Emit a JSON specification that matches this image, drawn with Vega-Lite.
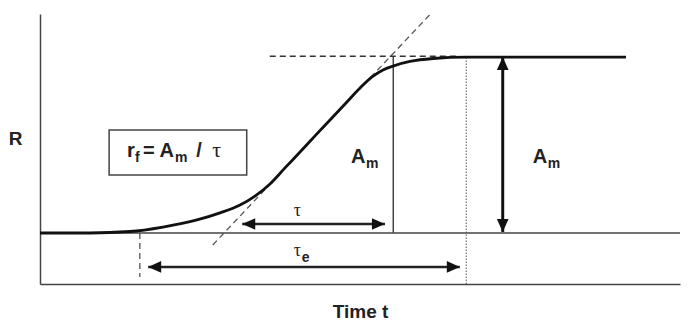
{
  "$schema": "https://vega.github.io/schema/vega-lite/v6.json",
  "width": 640,
  "height": 270,
  "autosize": {"type": "none"},
  "padding": {"left": 40, "top": 14, "right": 8, "bottom": 46},
  "background": "white",
  "config": {"view": {"stroke": null}, "font": "Liberation Sans"},
  "datasets": {
    "curve": [
      {"t": 0, "R": 0.0}, {"t": 7.81, "R": 0.0}, {"t": 14.06, "R": 0.0085}, {"t": 19.22, "R": 0.034},
      {"t": 24.53, "R": 0.074}, {"t": 28.13, "R": 0.114}, {"t": 31.25, "R": 0.159}, {"t": 33.59, "R": 0.21},
      {"t": 35.94, "R": 0.279}, {"t": 38.28, "R": 0.37}, {"t": 40.63, "R": 0.46}, {"t": 42.97, "R": 0.552},
      {"t": 45.31, "R": 0.642}, {"t": 47.66, "R": 0.733}, {"t": 50.0, "R": 0.824}, {"t": 51.88, "R": 0.887},
      {"t": 53.59, "R": 0.927}, {"t": 55.16, "R": 0.949}, {"t": 57.81, "R": 0.975}, {"t": 61.41, "R": 0.992},
      {"t": 66.72, "R": 1.0}, {"t": 91.56, "R": 1.0}
    ],
    "rules": [
      {"name": "tangent", "t": 27.0, "t2": 61.0, "R": -0.068, "R2": 1.245},
      {"name": "plateau", "t": 35.9, "t2": 65.6, "R": 1.005, "R2": 1.005},
      {"name": "tauEnd", "t": 55.2, "t2": 55.2, "R": 0.0, "R2": 1.005},
      {"name": "tauEEnd", "t": 66.6, "t2": 66.6, "R": -0.29, "R2": 1.0},
      {"name": "start", "t": 15.6, "t2": 15.6, "R": 0.0, "R2": -0.25},
      {"name": "baseline", "t": 0, "t2": 100, "R": 0.0, "R2": 0.0},
      {"name": "tauArrow", "t": 31.6, "t2": 53.9, "R": 0.051, "R2": 0.051},
      {"name": "tauEArrow", "t": 16.9, "t2": 65.6, "R": -0.193, "R2": -0.193},
      {"name": "AmArrow", "t": 72.3, "t2": 72.3, "R": 0.006, "R2": 1.0}
    ],
    "heads": [
      {"t": 31.6, "R": 0.051, "dir": "left"},
      {"t": 53.9, "R": 0.051, "dir": "right"},
      {"t": 16.9, "R": -0.193, "dir": "left"},
      {"t": 65.6, "R": -0.193, "dir": "right"},
      {"t": 72.3, "R": 1.0, "dir": "up"},
      {"t": 72.3, "R": 0.006, "dir": "down"}
    ],
    "box": [{"t": 10.8, "t2": 32.3, "R": 0.586, "R2": 0.33}],
    "mainText": [
      {"t": 48.6, "R": 0.398, "text": "A"},
      {"t": 77.0, "R": 0.398, "text": "A"},
      {"t": 13.6, "R": 0.432, "text": "r"},
      {"t": 16.1, "R": 0.432, "text": "= A"},
      {"t": 24.4, "R": 0.432, "text": "/"}
    ],
    "subText": [
      {"t": 50.95, "R": 0.37, "text": "m"},
      {"t": 79.35, "R": 0.37, "text": "m"},
      {"t": 14.85, "R": 0.404, "text": "f"},
      {"t": 21.1, "R": 0.404, "text": "m"},
      {"t": 40.9, "R": -0.165, "text": "e"}
    ],
    "greekText": [
      {"t": 40.2, "R": 0.097, "text": "τ"},
      {"t": 40.2, "R": -0.131, "text": "τ"}
    ],
    "boxGreek": [
      {"t": 27.6, "R": 0.432, "text": "τ"}
    ]
  },
  "encoding": {
    "x": {
      "field": "t", "type": "quantitative",
      "scale": {"domain": [0, 100], "nice": false, "zero": false},
      "axis": {"title": "Time t", "ticks": false, "labels": false, "grid": false,
        "domainColor": "#444", "domainWidth": 1.5,
        "titleFontSize": 19, "titleFontWeight": "bold", "titleColor": "#222",
        "titleY": 33, "titleBaseline": "alphabetic"}
    },
    "y": {
      "field": "R", "type": "quantitative",
      "scale": {"domain": [-0.29, 1.245], "nice": false, "zero": false},
      "axis": {"title": "R", "ticks": false, "labels": false, "grid": false,
        "domainColor": "#444", "domainWidth": 1.5,
        "titleFontSize": 19, "titleFontWeight": "bold", "titleColor": "#222",
        "titleAngle": 0, "titleX": -25, "titleY": 124, "titleAlign": "center", "titleBaseline": "middle"}
    }
  },
  "layer": [
    {
      "data": {"name": "rules"},
      "transform": [{"filter": {"field": "name", "oneOf": ["baseline", "tauEnd"]}}],
      "mark": {"type": "rule", "color": "#444", "strokeWidth": 1.5},
      "encoding": {"x2": {"field": "t2"}, "y2": {"field": "R2"}}
    },
    {
      "data": {"name": "rules"},
      "transform": [{"filter": {"field": "name", "oneOf": ["tauEEnd"]}}],
      "mark": {"type": "rule", "color": "#555", "strokeWidth": 1, "strokeDash": [1.5, 1.5]},
      "encoding": {"x2": {"field": "t2"}, "y2": {"field": "R2"}}
    },
    {
      "data": {"name": "rules"},
      "transform": [{"filter": {"field": "name", "oneOf": ["tangent", "start"]}}],
      "mark": {"type": "rule", "color": "#555", "strokeWidth": 1.3, "strokeDash": [6, 4]},
      "encoding": {"x2": {"field": "t2"}, "y2": {"field": "R2"}}
    },
    {
      "data": {"name": "rules"},
      "transform": [{"filter": {"field": "name", "oneOf": ["plateau"]}}],
      "mark": {"type": "rule", "color": "#333", "strokeWidth": 1.5, "strokeDash": [6, 4]},
      "encoding": {"x2": {"field": "t2"}, "y2": {"field": "R2"}}
    },
    {
      "data": {"name": "rules"},
      "transform": [{"filter": {"field": "name", "oneOf": ["tauArrow", "tauEArrow"]}}],
      "mark": {"type": "rule", "color": "#222", "strokeWidth": 2.5},
      "encoding": {"x2": {"field": "t2"}, "y2": {"field": "R2"}}
    },
    {
      "data": {"name": "rules"},
      "transform": [{"filter": {"field": "name", "oneOf": ["AmArrow"]}}],
      "mark": {"type": "rule", "color": "#111", "strokeWidth": 3},
      "encoding": {"x2": {"field": "t2"}, "y2": {"field": "R2"}}
    },
    {
      "data": {"name": "curve"},
      "mark": {"type": "line", "color": "#111", "strokeWidth": 2.8, "interpolate": "monotone"},
      "encoding": {}
    },
    {
      "data": {"name": "heads"},
      "transform": [{"filter": {"field": "dir", "equal": "right"}}],
      "mark": {"type": "point", "shape": "M0,0L-1,-0.45L-1,0.45Z", "filled": true, "color": "#111", "opacity": 1, "size": 676, "angle": 0},
      "encoding": {}
    },
    {
      "data": {"name": "heads"},
      "transform": [{"filter": {"field": "dir", "equal": "left"}}],
      "mark": {"type": "point", "shape": "M0,0L-1,-0.45L-1,0.45Z", "filled": true, "color": "#111", "opacity": 1, "size": 676, "angle": 180},
      "encoding": {}
    },
    {
      "data": {"name": "heads"},
      "transform": [{"filter": {"field": "dir", "equal": "up"}}],
      "mark": {"type": "point", "shape": "M0,0L-1,-0.45L-1,0.45Z", "filled": true, "color": "#111", "opacity": 1, "size": 676, "angle": 270},
      "encoding": {}
    },
    {
      "data": {"name": "heads"},
      "transform": [{"filter": {"field": "dir", "equal": "down"}}],
      "mark": {"type": "point", "shape": "M0,0L-1,-0.45L-1,0.45Z", "filled": true, "color": "#111", "opacity": 1, "size": 676, "angle": 90},
      "encoding": {}
    },
    {
      "data": {"name": "box"},
      "mark": {"type": "rect", "fill": null, "fillOpacity": 0, "stroke": "#444", "strokeWidth": 1.5},
      "encoding": {"x2": {"field": "t2"}, "y2": {"field": "R2"}}
    },
    {
      "data": {"name": "mainText"},
      "mark": {"type": "text", "align": "left", "baseline": "alphabetic", "fontSize": 20, "fontWeight": "bold", "color": "#222"},
      "encoding": {"text": {"field": "text"}}
    },
    {
      "data": {"name": "subText"},
      "mark": {"type": "text", "align": "left", "baseline": "alphabetic", "fontSize": 14, "fontWeight": "bold", "color": "#222"},
      "encoding": {"text": {"field": "text"}}
    },
    {
      "data": {"name": "greekText"},
      "mark": {"type": "text", "align": "center", "baseline": "alphabetic", "fontSize": 18, "font": "Liberation Serif", "color": "#222"},
      "encoding": {"text": {"field": "text"}}
    },
    {
      "data": {"name": "boxGreek"},
      "mark": {"type": "text", "align": "center", "baseline": "alphabetic", "fontSize": 22, "font": "Liberation Serif", "color": "#222"},
      "encoding": {"text": {"field": "text"}}
    }
  ]
}
